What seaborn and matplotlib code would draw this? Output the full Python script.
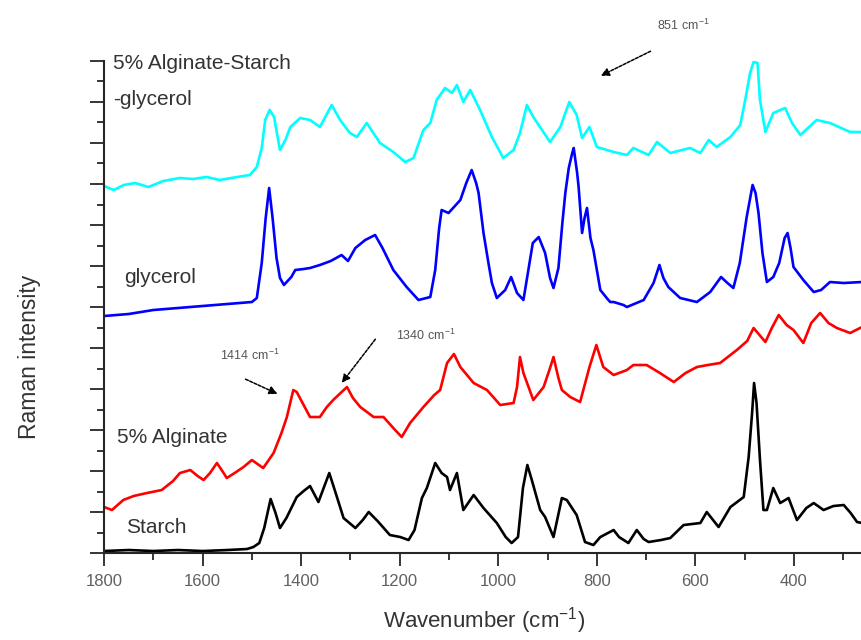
import matplotlib
matplotlib.use("Agg")
import matplotlib.pyplot as plt
import seaborn as sns
import pandas as pd
from matplotlib.ticker import MultipleLocator

# ==============================
# DATA (wavenumber cm-1, stacked intensity a.u.)
# ==============================

starch_w = [1800, 1750, 1700, 1650, 1600, 1550, 1510, 1497, 1485, 1475, 1462, 1452, 1443,
            1430, 1409, 1395, 1382, 1365, 1343, 1330, 1314, 1290, 1275, 1263, 1245, 1220,
            1199, 1182, 1170, 1155, 1145, 1128, 1115, 1104, 1098, 1084, 1071, 1050, 1030,
            1003, 985, 973, 960, 950, 941, 932, 915, 905, 888, 871, 861, 841, 824, 807,
            793, 766, 755, 736, 719, 705, 695, 670, 651, 624, 590, 577, 553, 529, 502,
            492, 485, 481, 476, 469, 462, 455, 442, 428, 411, 394, 375, 360, 340, 320,
            299, 285, 272, 262]
starch_i = [2, 3, 2, 3, 2, 3, 4, 6, 10, 25, 54, 40, 25,
            35, 56, 62, 67, 51, 80, 60, 35, 25, 33, 41, 32, 18,
            16, 13, 23, 55, 65, 90, 80, 76, 63, 80, 43, 58, 45,
            30, 16, 10, 16, 65, 88, 73, 43, 36, 16, 55, 53, 38, 11, 8,
            16, 23, 16, 10, 23, 14, 11, 13, 15, 28, 30, 41, 26, 46, 56,
            96, 140, 170, 150, 93, 43, 43, 65, 50, 55, 33, 45, 50, 43, 47,
            48, 40, 31, 30]

alginate_w = [1800, 1784, 1761, 1740, 1713, 1683, 1660, 1646, 1625, 1610, 1598, 1585, 1571,
              1560, 1551, 1535, 1517, 1500, 1477, 1456, 1440, 1429, 1416, 1409, 1395, 1382,
              1362, 1348, 1335, 1320, 1307, 1295, 1280, 1253, 1233, 1213, 1196, 1179, 1152,
              1130, 1118, 1104, 1090, 1077, 1050, 1023, 996, 969, 962, 956, 949, 929, 908,
              895, 888, 878, 871, 854, 834, 815, 801, 787, 766, 739, 726, 699, 672, 644,
              620, 597, 575, 550, 516, 495, 482, 470, 458, 445, 431, 415, 401, 381, 365,
              347, 330, 313, 286, 262]
alginate_i = [46, 43, 53, 57, 60, 63, 72, 80, 83, 77, 73, 80, 90,
              82, 75, 80, 86, 93, 85, 100, 120, 136, 163, 161, 148, 136,
              136, 146, 153, 160, 166, 155, 146, 136, 136, 125, 116, 130, 146,
              158, 163, 190, 199, 186, 170, 163, 148, 150, 166, 196, 180, 153, 166,
              185, 196, 175, 163, 156, 151, 186, 208, 186, 178, 183, 188, 188, 180, 171,
              180, 186, 188, 190, 203, 212, 225, 218, 211, 225, 238, 228, 223, 210, 230,
              240, 230, 225, 220, 226]

glycerol_w = [1800, 1750, 1700, 1650, 1600, 1550, 1500, 1490, 1480, 1472, 1465, 1458, 1450,
              1443, 1435, 1420, 1412, 1395, 1382, 1362, 1340, 1318, 1305, 1290, 1270, 1250,
              1235, 1213, 1186, 1162, 1138, 1128, 1120, 1115, 1101, 1077, 1065, 1054, 1045,
              1040, 1030, 1020, 1013, 1003, 986, 974, 962, 949, 939, 930, 918, 905, 895,
              888, 878, 870, 864, 857, 850, 847, 840, 837, 830, 825, 820, 813, 807, 793,
              780, 773, 766, 746, 739, 705, 685, 673, 665, 655, 631, 597, 570, 548, 535,
              523, 510, 496, 484, 478, 472, 464, 455, 442, 430, 419, 413, 407, 401, 381,
              360, 345, 327, 299, 262]
glycerol_i = [237, 239, 243, 245, 247, 249, 251, 255, 290, 335, 365, 335, 295,
              275, 268, 276, 283, 284, 285, 288, 292, 298, 292, 305, 313, 318,
              305, 283, 266, 253, 256, 283, 325, 343, 340, 353, 370, 383, 370,
              360, 320, 290, 270, 255, 263, 276, 260, 253, 283, 310, 316, 300, 275,
              265, 285, 330, 360, 385, 400, 405, 380, 366, 320, 335, 345, 315, 303, 263,
              255, 251, 251, 248, 246, 253, 270, 288, 275, 266, 255, 251, 261, 276, 270,
              265, 290, 336, 368, 360, 340, 300, 271, 276, 290, 315, 320, 305, 286, 273,
              261, 263, 271, 270, 271]

blend_w = [1800, 1780, 1760, 1737, 1710, 1680, 1646, 1620, 1592, 1565, 1530, 1504, 1490,
           1480, 1473, 1464, 1455, 1443, 1432, 1422, 1402, 1382, 1362, 1338, 1321, 1301,
           1287, 1267, 1240, 1213, 1189, 1172, 1152, 1138, 1125, 1108, 1094, 1084, 1071,
           1057, 1037, 1013, 990, 969, 956, 942, 929, 895, 874, 856, 841, 830, 815, 800,
           766, 739, 726, 695, 678, 651, 611, 590, 573, 557, 529, 509, 499, 489, 482,
           474, 469, 458, 442, 418, 404, 387, 354, 327, 286, 262]
blend_i = [367, 363, 368, 370, 366, 372, 375, 374, 376, 373, 376, 378, 386,
           405, 433, 443, 436, 403, 413, 426, 435, 433, 426, 448, 433, 420,
           416, 430, 410, 401, 391, 395, 423, 430, 453, 465, 460, 468, 451,
           463, 443, 416, 395, 403, 420, 448, 436, 411, 426, 451, 438, 415, 426, 406,
           401, 398, 405, 398, 411, 400, 405, 400, 413, 406, 416, 428, 453, 480, 491,
           490, 453, 421, 440, 445, 430, 418, 433, 430, 421, 421]

series = [
    ("Starch", starch_w, starch_i, "#000000"),
    ("5% Alginate", alginate_w, alginate_i, "#ff0000"),
    ("glycerol", glycerol_w, glycerol_i, "#0000ff"),
    ("5% Alginate-Starch-glycerol", blend_w, blend_i, "#00ffff"),
]

# ==============================
# PLOT
# ==============================

sns.set_style("ticks")
plt.rcParams["font.family"] = ["Liberation Sans", "DejaVu Sans"]
plt.rcParams["mathtext.fontset"] = "custom"
plt.rcParams["mathtext.rm"] = "Liberation Sans"
plt.rcParams["mathtext.it"] = "Liberation Sans"

fig = plt.figure(figsize=(8.62, 6.4), dpi=100)
ax = fig.add_axes([0.1207, 0.1359, 0.8793, 0.7688])

for name, w, inten, color in series:
    df = pd.DataFrame({"Wavenumber": w, "Intensity": inten})
    sns.lineplot(data=df, x="Wavenumber", y="Intensity", color=color,
                 linewidth=1.9, estimator=None, ax=ax)

ax.set_xlim(1800, 262)
ax.set_ylim(0, 492)

ax.xaxis.set_major_locator(MultipleLocator(200))
ax.xaxis.set_minor_locator(MultipleLocator(100))
ax.yaxis.set_major_locator(MultipleLocator(41))
ax.yaxis.set_minor_locator(MultipleLocator(20.5))
ax.set_yticklabels([])

ax.tick_params(axis="x", which="major", length=9, width=1.3, direction="out",
               labelsize=12, labelcolor="#606060", pad=6)
ax.tick_params(axis="x", which="minor", length=5, width=1.3, direction="out")
ax.tick_params(axis="y", which="major", length=10, width=1.3, direction="out")
ax.tick_params(axis="y", which="minor", length=5, width=1.3, direction="out")

sns.despine(ax=ax, top=True, right=True)
for side in ["left", "bottom"]:
    ax.spines[side].set_linewidth(1.5)

ax.set_xlabel("")
ax.set_ylabel("")

fig.text(30 / 862, 1 - 357 / 640, "Raman intensity", rotation=90,
         ha="center", va="center", fontsize=16.5, color="#333333")
fig.text(484 / 862, 4 / 640, r"Wavenumber (cm$^{-1}$)",
         ha="center", va="bottom", fontsize=16, color="#333333")

# sample labels
label_kw = dict(fontsize=15, color="#333333", va="center", ha="left")
ax.text(1782, 489, "5% Alginate-Starch", **label_kw)
ax.text(1782, 453, "-glycerol", **label_kw)
ax.text(1759, 276, "glycerol", **label_kw)
ax.text(1774, 116, "5% Alginate", **label_kw)
ax.text(1755, 26, "Starch", **label_kw)

# peak annotations
arrow_kw = dict(arrowstyle="-|>", color="black", lw=1.1, linestyle=(0, (2, 1)),
                mutation_scale=12)
ax.annotate("", xy=(797, 476), xytext=(686, 503), arrowprops=arrow_kw,
            annotation_clip=False)
ax.text(625, 528, r"851 cm$^{-1}$", fontsize=9, color="#555555",
        ha="center", va="center", clip_on=False)

ax.annotate("", xy=(1321, 168), xytext=(1246, 216), arrowprops=arrow_kw)
ax.text(1148, 218, r"1340 cm$^{-1}$", fontsize=9, color="#555555",
        ha="center", va="center")

ax.annotate("", xy=(1443, 158), xytext=(1518, 175), arrowprops=arrow_kw)
ax.text(1505, 198, r"1414 cm$^{-1}$", fontsize=9, color="#555555",
        ha="center", va="center")

plt.savefig("out.png", dpi=100)
